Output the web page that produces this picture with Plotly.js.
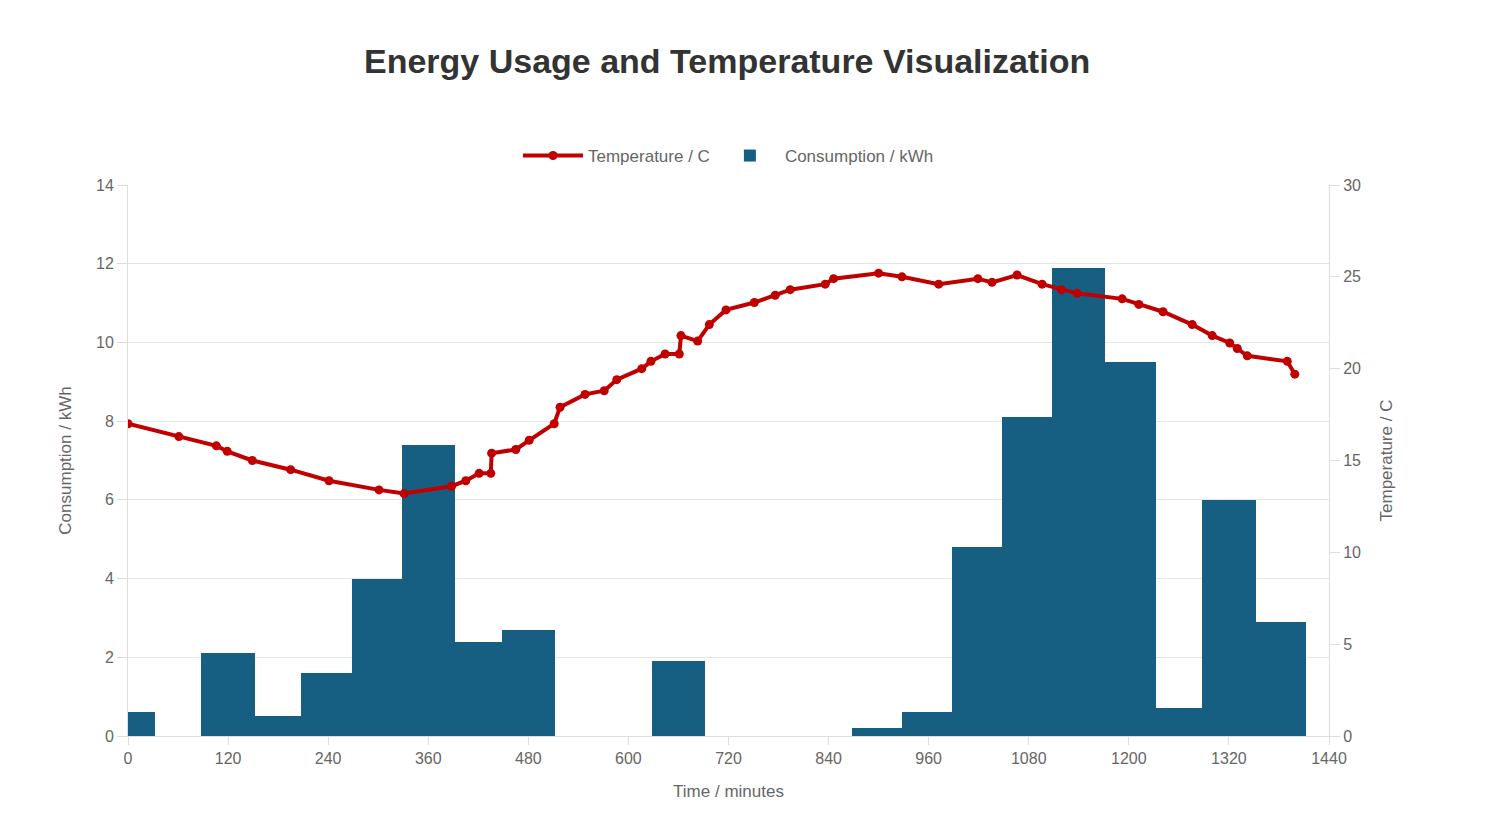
<!DOCTYPE html>
<html>
<head>
<meta charset="utf-8">
<script src="https://cdn.plot.ly/plotly-3.0.1.min.js"></script>
<style>body{margin:0;background:#fff}#chart{width:1493px;height:815px}</style>
</head>
<body>
<div id="chart"></div>
<script>
// consumption bins (minutes)
const binStart = [0, 32, 88, 152, 208, 268, 328, 392, 448, 512, 570, 628, 692, 748, 808, 868, 928, 988, 1048, 1108, 1172, 1232, 1288, 1352];
const binEnd = [32, 88, 152, 208, 268, 328, 392, 448, 512, 570, 628, 692, 748, 808, 868, 928, 988, 1048, 1108, 1172, 1232, 1288, 1352, 1412];
const consumption = [0.6, 0, 2.1, 0.5, 1.6, 4.0, 7.4, 2.4, 2.7, 0, 0, 1.9, 0, 0, 0, 0.2, 0.6, 4.8, 8.1, 11.9, 9.5, 0.7, 6.0, 2.9];

// temperature readings
const tempTime = [0, 61, 106, 119, 149, 195, 241, 301, 331, 388, 405, 421, 435, 436, 465, 481, 511, 518, 548, 571, 586, 616, 627, 644, 661, 663, 683, 697, 717, 751, 776, 794, 836, 846, 900, 928, 972, 1019, 1036, 1066, 1096, 1119, 1138, 1192, 1212, 1241, 1276, 1300, 1321, 1330, 1342, 1390, 1399];
const temperature = [17.0, 16.3, 15.8, 15.5, 15.0, 14.5, 13.9, 13.4, 13.2, 13.6, 13.9, 14.3, 14.3, 15.4, 15.6, 16.1, 17.0, 17.9, 18.6, 18.8, 19.4, 20.0, 20.4, 20.8, 20.8, 21.8, 21.5, 22.4, 23.2, 23.6, 24.0, 24.3, 24.6, 24.9, 25.2, 25.0, 24.6, 24.9, 24.7, 25.1, 24.6, 24.3, 24.1, 23.8, 23.5, 23.1, 22.4, 21.8, 21.4, 21.1, 20.7, 20.4, 19.7];

const font = { family: "Liberation Sans, Arial, sans-serif", size: 16, color: "#666" };

const data = [
  {
    x: tempTime, y: temperature, yaxis: "y2", type: "scatter", mode: "lines+markers",
    name: "Temperature / C", line: { color: "#c00000", width: 4 },
    marker: { color: "#c00000", size: 9 }
  },
  {
    x: binStart.map((s, i) => (s + binEnd[i]) / 2),
    width: binStart.map((s, i) => binEnd[i] - s),
    y: consumption, type: "bar", name: "Consumption / kWh",
    marker: { color: "#175f82", line: { width: 0 } }
  }
];

const layout = {
  width: 1493, height: 815,
  font: font,
  margin: { l: 128, r: 164, t: 185, b: 79 },
  title: { text: "<b>Energy Usage and Temperature Visualization</b>", x: 0.487, y: 0.94,
    font: { family: "Liberation Sans, Arial, sans-serif", size: 34, color: "#333" } },
  showlegend: true,
  legend: { orientation: "h", x: 0.5, xanchor: "center", y: 1.02, yanchor: "bottom",
    traceorder: "normal", itemwidth: 60, font: { size: 17, color: "#666" } },
  xaxis: {
    range: [0, 1440], tickvals: [0, 120, 240, 360, 480, 600, 720, 840, 960, 1080, 1200, 1320, 1440],
    showgrid: false, showline: true, linecolor: "#ddd", ticks: "outside", tickcolor: "#ddd", ticklen: 8,
    title: { text: "Time / minutes", font: { size: 17, color: "#666" } }, zeroline: false
  },
  yaxis: {
    range: [0, 14], dtick: 2, gridcolor: "#e5e5e5", showline: true, linecolor: "#ddd",
    ticks: "outside", tickcolor: "#ddd", ticklen: 10, zeroline: false,
    title: { text: "Consumption / kWh", font: { size: 17, color: "#666" }, standoff: 20 }
  },
  yaxis2: {
    range: [0, 30], dtick: 5, overlaying: "y", side: "right", showgrid: false,
    showline: true, linecolor: "#ddd", ticks: "outside", tickcolor: "#ddd", ticklen: 10, zeroline: false,
    title: { text: "Temperature / C", font: { size: 17, color: "#666" }, standoff: 20 }
  },
  bargap: 0,
  plot_bgcolor: "#fff", paper_bgcolor: "#fff"
};

Plotly.newPlot("chart", data, layout, { displayModeBar: false });
</script>
</body>
</html>
